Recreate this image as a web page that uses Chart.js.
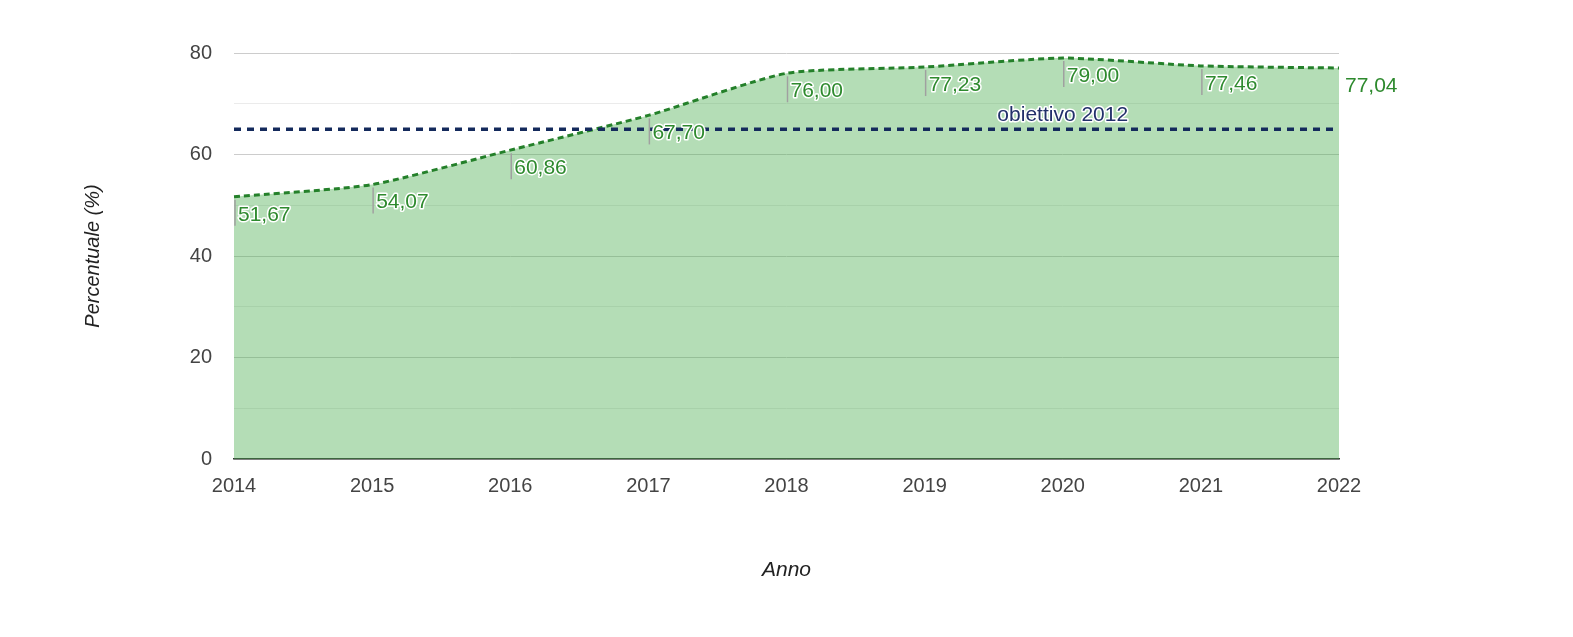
<!DOCTYPE html>
<html>
<head>
<meta charset="utf-8">
<script src="https://cdn.jsdelivr.net/npm/chart.js@4.4.1/dist/chart.umd.min.js"></script>
<style>
  html, body { margin: 0; padding: 0; background: #fff; }
  #wrap { width: 1573px; height: 637px; }
</style>
</head>
<body>
<div id="wrap"><canvas id="chart" width="1573" height="637"></canvas></div>
<script>
const years = ["2014", "2015", "2016", "2017", "2018", "2019", "2020", "2021", "2022"];
const percent = [51.67, 54.07, 60.86, 67.70, 76.00, 77.23, 79.00, 77.46, 77.04];
const target = [65, 65, 65, 65, 65, 65, 65, 65, 65];
const targetLabel = "obiettivo 2012";
const yTicks = [0, 20, 40, 60, 80];

const FONT = "'Liberation Sans', Arial, sans-serif";
const fmt = v => v.toFixed(2).replace(".", ",");

// value labels with small tick under each point + target caption
const labelPlugin = {
  id: "labels",
  afterDatasetsDraw(chart) {
    const ctx = chart.ctx;
    const meta = chart.getDatasetMeta(0);
    const x = chart.scales.x, y = chart.scales.y;
    ctx.save();
    ctx.font = "21px " + FONT;
    ctx.textBaseline = "middle";
    ctx.textAlign = "left";
    meta.data.forEach((pt, i) => {
      const last = i === meta.data.length - 1;
      if (!last) {
        ctx.strokeStyle = "#a0a0a0";
        ctx.lineWidth = 1.5;
        ctx.beginPath();
        ctx.moveTo(pt.x + 1, pt.y + 3);
        ctx.lineTo(pt.x + 1, pt.y + 29);
        ctx.stroke();
      }
      const tx = last ? pt.x + 6 : pt.x + 4;
      const ty = pt.y + 18;
      ctx.lineJoin = "round";
      if (!last) {
        ctx.strokeStyle = "#fff";
        ctx.lineWidth = 3;
        ctx.strokeText(fmt(percent[i]), tx, ty);
      }
      ctx.fillStyle = "#2e8a2e";
      ctx.fillText(fmt(percent[i]), tx, ty);
    });
    // target caption
    const cx = x.getPixelForValue(6);
    const cy = y.getPixelForValue(target[6]) - 14;
    ctx.textAlign = "center";
    ctx.strokeStyle = "#fff";
    ctx.lineWidth = 3;
    ctx.strokeText(targetLabel, cx, cy);
    ctx.fillStyle = "#22306a";
    ctx.fillText(targetLabel, cx, cy);
    ctx.restore();
  }
};

new Chart(document.getElementById("chart"), {
  type: "line",
  data: {
    labels: years,
    datasets: [
      {
        data: percent,
        order: 2,
        borderColor: "#24802a",
        borderWidth: 3,
        borderDash: [6, 4],
        backgroundColor: "rgba(76,175,80,0.42)",
        fill: "origin",
        pointRadius: 0,
        tension: 0.2
      },
      {
        data: target,
        order: 1,
        borderColor: "#142a5c",
        borderWidth: 3.5,
        borderDash: [7, 6],
        fill: false,
        pointRadius: 0
      }
    ]
  },
  options: {
    responsive: false,
    animation: false,
    layout: { padding: { top: 53, right: 234, left: 0, bottom: 0 } },
    plugins: { legend: { display: false }, tooltip: { enabled: false } },
    scales: {
      x: {
        offset: false,
        afterFit: s => { s.height = 178; },
        grid: { display: false, drawTicks: false },
        border: { display: true, color: "#333", width: 1.5 },
        ticks: { color: "#444", font: { family: FONT, size: 20 }, padding: 15, maxRotation: 0 },
        title: {
          display: true, text: "Anno", color: "#222",
          font: { family: FONT, size: 21, style: "italic" },
          padding: { bottom: 54 }
        }
      },
      y: {
        min: 0, max: 80,
        afterFit: s => { s.width = 234; },
        afterBuildTicks: s => {
          s.ticks = [0, 10, 20, 30, 40, 50, 60, 70, 80].map(v => ({ value: v }));
        },
        grid: {
          drawTicks: false,
          color: c => yTicks.includes(c.tick.value) ? "#cccccc" : "#ebebeb",
          lineWidth: 1
        },
        border: { display: false },
        ticks: {
          color: "#444",
          font: { family: FONT, size: 20 },
          padding: 22,
          callback: v => yTicks.includes(v) ? v : ""
        },
        title: {
          display: true, text: "Percentuale (%)", color: "#222",
          font: { family: FONT, size: 20, style: "italic" },
          padding: { top: 81 }
        }
      }
    }
  },
  plugins: [labelPlugin]
});
</script>
</body>
</html>
